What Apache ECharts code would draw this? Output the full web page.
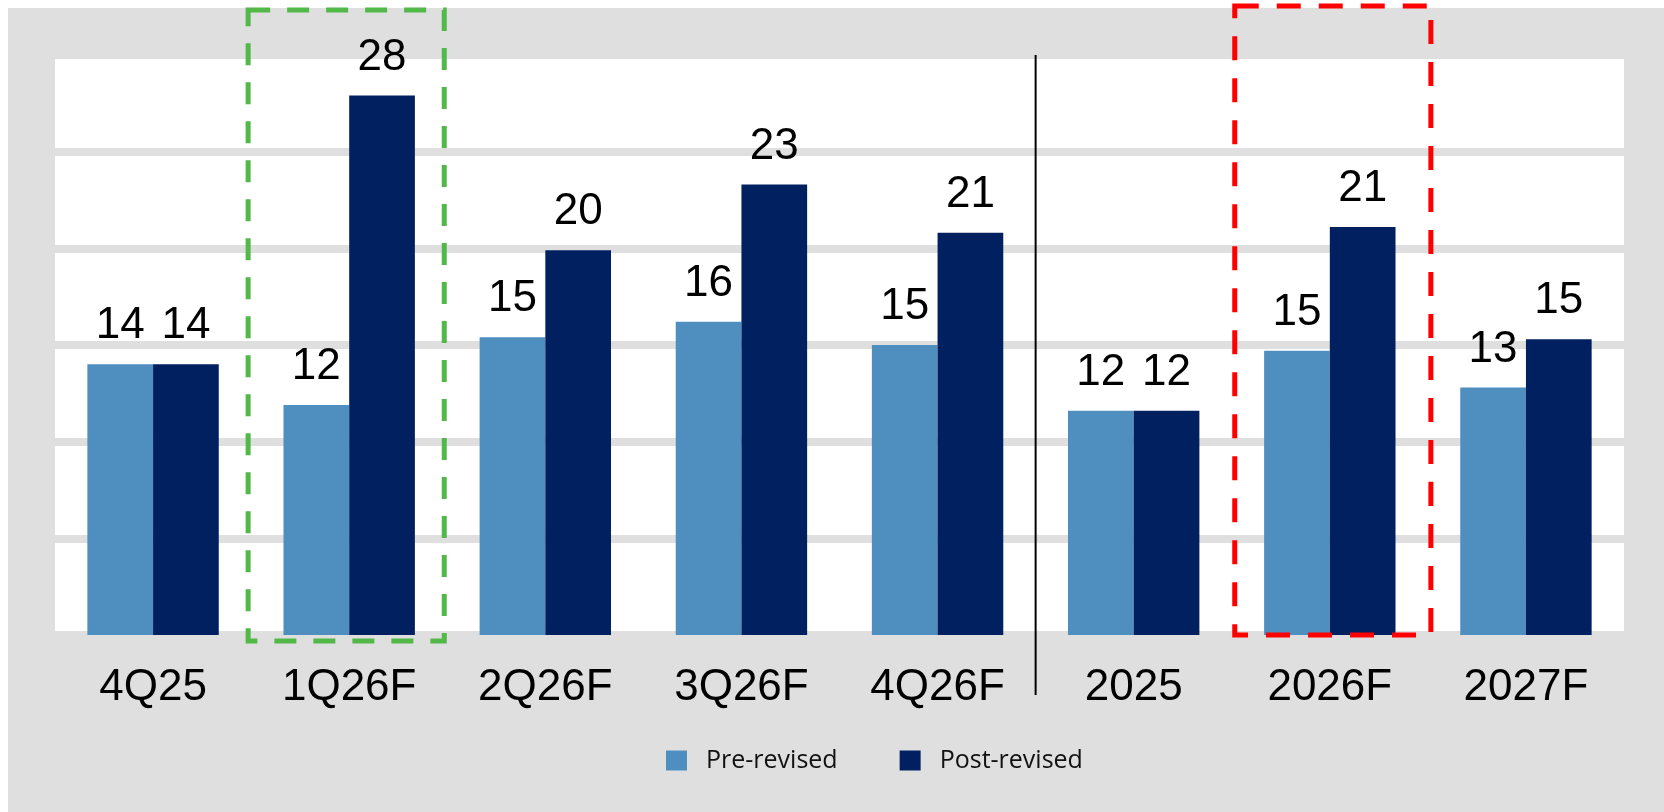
<!DOCTYPE html>
<html>
<head>
<meta charset="utf-8">
<script src="https://cdn.jsdelivr.net/npm/echarts@6/dist/echarts.min.js"></script>
<style>
  body { margin: 0; }
  #wrap { position: relative; width: 1664px; height: 812px; background: #fff; }
  #bg { position: absolute; left: 8px; top: 8px; right: 0; bottom: 0; background: #dfdfdf; }
  #main { position: absolute; left: 0; top: 0; width: 1664px; height: 812px; }
</style>
</head>
<body>
<div id="wrap">
  <div id="bg"></div>
  <div id="main"></div>
</div>
<script>
  // categories and values
  var categories = ['4Q25', '1Q26F', '2Q26F', '3Q26F', '4Q26F', '2025', '2026F', '2027F'];
  var preRevised = [14, 11.9, 15.4, 16.2, 15.0, 11.6, 14.7, 12.8];
  var postRevised = [14, 27.9, 19.9, 23.3, 20.8, 11.6, 21.1, 15.3];
  var seriesNames = ['Pre-revised', 'Post-revised'];

  var bigFont = '"Liberation Sans Narrow", "Liberation Sans", Arial, sans-serif';

  let myChart = echarts.init(document.getElementById('main'));

  let labelOpt = {
    show: true,
    position: 'top',
    distance: 16,
    color: '#000',
    fontFamily: bigFont,
    fontSize: 44,
    formatter: function (p) { return Math.round(p.value); }
  };

  let option = {
    animation: false,
    grid: {
      left: 55, right: 40, top: 55, bottom: 177,
      show: true, backgroundColor: '#fff', borderWidth: 0
    },
    legend: {
      data: seriesNames,
      left: 661,
      top: 743,
      icon: 'rect',
      itemWidth: 21,
      itemHeight: 20,
      itemGap: 62,
      textStyle: {
        fontFamily: '"Open Sans", "Noto Sans", sans-serif',
        fontSize: 25,
        color: '#111',
        padding: [0, 0, 0, 14]
      }
    },
    xAxis: {
      type: 'category',
      data: categories,
      axisLine: { show: false },
      axisTick: { show: false },
      axisLabel: {
        margin: 31,
        color: '#000',
        fontFamily: bigFont,
        fontSize: 44
      }
    },
    yAxis: {
      type: 'value',
      min: 0,
      max: 30,
      interval: 5,
      axisLabel: { show: false },
      axisLine: { show: false },
      axisTick: { show: false },
      splitLine: { lineStyle: { color: '#dfdfdf', width: 8 } }
    },
    series: [{
      name: seriesNames[0],
      type: 'bar',
      data: preRevised,
      barGap: '0%',
      barCategoryGap: '33%',
      itemStyle: { color: '#4f8fc0' },
      label: labelOpt
    }, {
      name: seriesNames[1],
      type: 'bar',
      data: postRevised,
      itemStyle: { color: '#00205f' },
      label: labelOpt
    }]
  };

  myChart.setOption(option);

  // separator line and highlight boxes, placed from the axis scales
  let c4 = myChart.convertToPixel({ xAxisIndex: 0 }, 4);
  let c5 = myChart.convertToPixel({ xAxisIndex: 0 }, 5);
  let c1 = myChart.convertToPixel({ xAxisIndex: 0 }, 1);
  let c6 = myChart.convertToPixel({ xAxisIndex: 0 }, 6);
  let band = c5 - c4;
  let yTop = myChart.convertToPixel({ yAxisIndex: 0 }, 30);
  let yBase = myChart.convertToPixel({ yAxisIndex: 0 }, 0);
  let sepX = (c4 + c5) / 2;

  myChart.setOption({
    graphic: [{
      type: 'line',
      shape: { x1: sepX, y1: yTop, x2: sepX, y2: yBase + 60 },
      style: { stroke: '#000', lineWidth: 2 }
    }, {
      type: 'rect',
      z: 100,
      shape: { x: c1 - band / 2 - 3, y: 10, width: band, height: yBase + 6 - 10 },
      style: { fill: 'none', stroke: '#52b848', lineWidth: 5, lineDash: [22, 17] }
    }, {
      type: 'rect',
      z: 100,
      shape: { x: c6 - band / 2 + 3, y: 6, width: band, height: yBase - 6 },
      style: { fill: 'none', stroke: '#ff0000', lineWidth: 5, lineDash: [24, 18] }
    }]
  });
</script>
</body>
</html>
